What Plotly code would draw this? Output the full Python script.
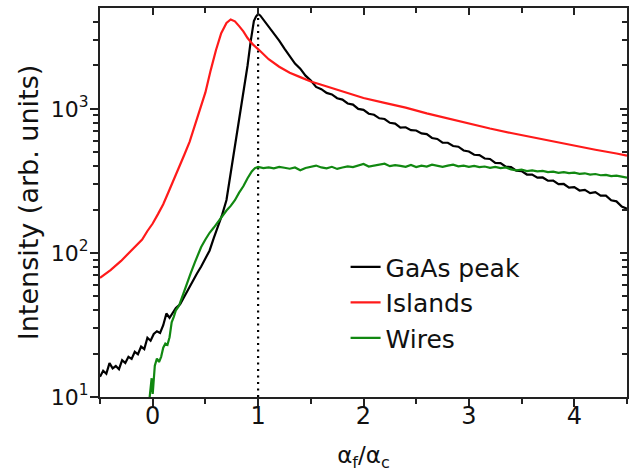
import plotly.graph_objects as go

# ---------------- data ----------------
gaas_x = [-0.5, -0.47, -0.44, -0.41, -0.38, -0.35, -0.32, -0.29, -0.26, -0.23, -0.20, -0.17,
          -0.14, -0.11, -0.08, -0.05, -0.02, 0.01, 0.04, 0.07, 0.10, 0.13, 0.16, 0.19, 0.22,
          0.26, 0.30, 0.34, 0.38, 0.42, 0.46, 0.50, 0.54, 0.58, 0.62, 0.66, 0.70, 0.74, 0.78,
          0.82, 0.86, 0.90, 0.93, 0.96, 0.98, 1.00, 1.02, 1.05, 1.08, 1.12, 1.16, 1.20, 1.25,
          1.30, 1.35, 1.40, 1.45, 1.50, 1.55, 1.60, 1.65, 1.70, 1.75, 1.80, 1.85, 1.90, 1.95,
          2.00, 2.05, 2.10, 2.15, 2.20, 2.25, 2.30, 2.35, 2.40, 2.45, 2.50, 2.55, 2.60, 2.65,
          2.70, 2.75, 2.80, 2.85, 2.90, 2.95, 3.00, 3.05, 3.10, 3.15, 3.20, 3.25, 3.30, 3.35,
          3.40, 3.45, 3.50, 3.55, 3.60, 3.65, 3.70, 3.75, 3.80, 3.85, 3.90, 3.95, 4.00, 4.05,
          4.10, 4.15, 4.20, 4.25, 4.30, 4.35, 4.40, 4.45, 4.50]
gaas_y = [13.8, 15.2, 14.5, 17.2, 15.8, 16.4, 15.6, 18.0, 17.2, 19.0, 18.4, 20.6,
          19.8, 22.4, 21.5, 25.8, 24.6, 27.4, 28.6, 27.8, 31.5, 38.0, 35.5, 38.5, 41.5,
          44.0, 50.0, 55.5, 63.0, 72.0, 80.5, 91.0, 104, 127, 152, 185, 233, 355, 540,
          830, 1300, 2000, 2950, 4070, 4370, 4550, 4450, 4170, 3900, 3600, 3250, 2980, 2620,
          2300, 2060, 1900, 1700, 1570, 1420, 1370, 1290, 1260, 1185, 1160, 1090, 1070, 1000,
          985, 925, 910, 860, 850, 800, 790, 740, 745, 712, 708, 676, 668, 628,
          618, 583, 582, 552, 546, 514, 506, 480, 478, 452, 449, 422, 420, 397,
          395, 373, 370, 350, 350, 333, 334, 317, 318, 300, 301, 284, 286, 271,
          274, 260, 264, 250, 250, 232, 228, 210, 203]

islands_x = [-0.5, -0.4, -0.3, -0.2, -0.1, -0.05, 0.0, 0.05, 0.1, 0.15, 0.2, 0.25, 0.3, 0.35,
             0.4, 0.45, 0.5, 0.55, 0.6, 0.65, 0.7, 0.74, 0.78, 0.82, 0.86, 0.9, 0.95, 1.0,
             1.05, 1.1, 1.2, 1.3, 1.4, 1.5, 1.6, 1.7, 1.8, 1.9, 2.0, 2.2, 2.4, 2.6, 2.8,
             3.0, 3.2, 3.4, 3.6, 3.8, 4.0, 4.2, 4.4, 4.5]
islands_y = [67, 76, 88, 104, 124, 142, 160, 186, 218, 265, 320, 390, 480, 590,
             760, 980, 1300, 1850, 2550, 3350, 3950, 4170, 4050, 3750, 3450, 3100, 2800, 2600,
             2380, 2210, 1960, 1780, 1660, 1550, 1470, 1390, 1320, 1250, 1190, 1100, 1020, 930, 855,
             785, 730, 680, 635, 590, 555, 520, 490, 474]

wires_x = [-0.03, -0.02, -0.01, 0.0, 0.01, 0.02, 0.04, 0.06, 0.08, 0.10, 0.12, 0.14, 0.16,
           0.18, 0.20, 0.22, 0.25, 0.28, 0.30, 0.33, 0.36, 0.40, 0.43, 0.46, 0.50, 0.54,
           0.58, 0.62, 0.66, 0.70, 0.74, 0.78, 0.82, 0.86, 0.90, 0.94, 0.97, 1.00,
           1.05, 1.10, 1.15, 1.20, 1.25, 1.30, 1.35, 1.40, 1.45, 1.50, 1.55, 1.60, 1.65,
           1.70, 1.75, 1.80, 1.85, 1.90, 1.95, 2.00, 2.05, 2.10, 2.15, 2.20, 2.25, 2.30,
           2.35, 2.40, 2.45, 2.50, 2.55, 2.60, 2.65, 2.70, 2.75, 2.80, 2.85, 2.90, 2.95,
           3.00, 3.05, 3.10, 3.15, 3.20, 3.25, 3.30, 3.35, 3.40, 3.45, 3.50, 3.55, 3.60,
           3.65, 3.70, 3.75, 3.80, 3.85, 3.90, 3.95, 4.00, 4.05, 4.10, 4.15, 4.20, 4.25,
           4.30, 4.35, 4.40, 4.45, 4.50]
wires_y = [9.8, 12, 13.5, 10.5, 14.5, 16.5, 18.5, 17.5, 19, 22, 23.5, 23, 26,
           33, 36, 40, 43, 50, 54, 63, 72, 86, 98, 110, 124, 138,
           150, 165, 182, 197, 212, 232, 262, 290, 330, 368, 388, 395,
           388, 392, 386, 395, 390, 384, 392, 375, 389, 398, 404, 392, 386,
           396, 383, 392, 399, 394, 405, 414, 398, 404, 412, 416, 400, 407,
           402, 396, 408, 394, 403, 398, 410, 402, 396, 404, 410, 399, 403,
           396, 402, 394, 398, 390, 396, 388, 392, 380, 374, 378, 370, 374,
           368, 371, 364, 367, 360, 364, 358, 361, 354, 357, 350, 353, 346,
           348, 341, 344, 337, 333]

critical_x = [1.0, 1.0]
critical_y = [10, 4500]

x_ticks = [0, 1, 2, 3, 4]
x_minor = [-0.5, 0.5, 1.5, 2.5, 3.5, 4.5]
y_ticks = [10, 100, 1000]
y_ticktext = ["10<sup>1</sup>", "10<sup>2</sup>", "10<sup>3</sup>"]
y_minor = [20, 30, 40, 50, 60, 70, 80, 90, 200, 300, 400, 500, 600, 700, 800, 900,
           2000, 3000, 4000]

FONT = "DejaVu Sans, Liberation Sans, sans-serif"
AX = "#222222"
TXT = "#111111"

fig = go.Figure()
fig.add_trace(go.Scatter(x=critical_x, y=critical_y, mode="lines",
                         line=dict(color="black", width=2.2, dash="2px,4.5px"),
                         showlegend=False, hoverinfo="skip"))
fig.add_trace(go.Scatter(x=gaas_x, y=gaas_y, mode="lines", name="GaAs peak",
                         line=dict(color="black", width=2.2)))
fig.add_trace(go.Scatter(x=islands_x, y=islands_y, mode="lines", name="Islands",
                         line=dict(color="#ff1a1a", width=2.2)))
fig.add_trace(go.Scatter(x=wires_x, y=wires_y, mode="lines", name="Wires",
                         line=dict(color="#118811", width=2.2)))
# empty trace so the mirrored (top/right) frame axes are drawn
fig.add_trace(go.Scatter(x=[None], y=[None], xaxis="x2", yaxis="y2",
                         showlegend=False, hoverinfo="skip"))

fig.update_layout(
    width=634, height=472,
    margin=dict(l=100, r=7, t=8, b=75, autoexpand=False),
    paper_bgcolor="white", plot_bgcolor="white",
    font=dict(family=FONT, size=24, color=TXT),
    showlegend=True,
    legend=dict(x=0.466, y=0.393, xanchor="left", yanchor="top",
                bgcolor="rgba(0,0,0,0)", font=dict(family=FONT, size=25, color=TXT),
                tracegroupgap=0, itemwidth=30),
    xaxis=dict(range=[-0.5, 4.5], showgrid=False, zeroline=False, automargin=False,
               showline=True, linewidth=2, linecolor=AX,
               ticks="outside", ticklen=8, tickwidth=2, tickcolor=AX,
               tickvals=x_ticks, ticktext=[str(v) for v in x_ticks],
               minor=dict(tickvals=x_minor, ticks="outside", ticklen=5, tickwidth=2, tickcolor=AX),
               tickfont=dict(size=24), ticklabelstandoff=-12,
               title=dict(text="α<sub>f</sub>/α<sub>c</sub>", font=dict(size=23), standoff=19)),
    yaxis=dict(type="log", range=[1, 3.7], showgrid=False, zeroline=False, automargin=False,
               showline=True, linewidth=2, linecolor=AX,
               ticks="outside", ticklen=8, tickwidth=2, tickcolor=AX,
               tickvals=y_ticks, ticktext=y_ticktext,
               minor=dict(tickvals=y_minor, ticks="outside", ticklen=5, tickwidth=1.5, tickcolor=AX),
               tickfont=dict(size=22), ticklabelstandoff=-3,
               title=dict(text="Intensity (arb. units)", font=dict(size=27), standoff=4)),
    xaxis2=dict(overlaying="x", side="top", range=[-0.5, 4.5], showgrid=False, zeroline=False,
                automargin=False, showline=True, linewidth=2, linecolor=AX,
                ticks="inside", ticklen=7, tickwidth=2, tickcolor=AX,
                tickvals=x_ticks, showticklabels=False,
                minor=dict(tickvals=x_minor, ticks="inside", ticklen=5, tickwidth=2, tickcolor=AX)),
    yaxis2=dict(overlaying="y", side="right", type="log", range=[1, 3.7], showgrid=False,
                zeroline=False, automargin=False, showline=True, linewidth=2, linecolor=AX,
                ticks="inside", ticklen=7, tickwidth=2, tickcolor=AX,
                tickvals=y_ticks, showticklabels=False,
                minor=dict(tickvals=y_minor, ticks="inside", ticklen=5, tickwidth=1.5, tickcolor=AX)),
)

# the page body has an 8px default margin; remove it so the figure sits at the window origin
fig.write_html("out.html", config={"displayModeBar": False},
               post_script="document.body.style.margin='0';")
